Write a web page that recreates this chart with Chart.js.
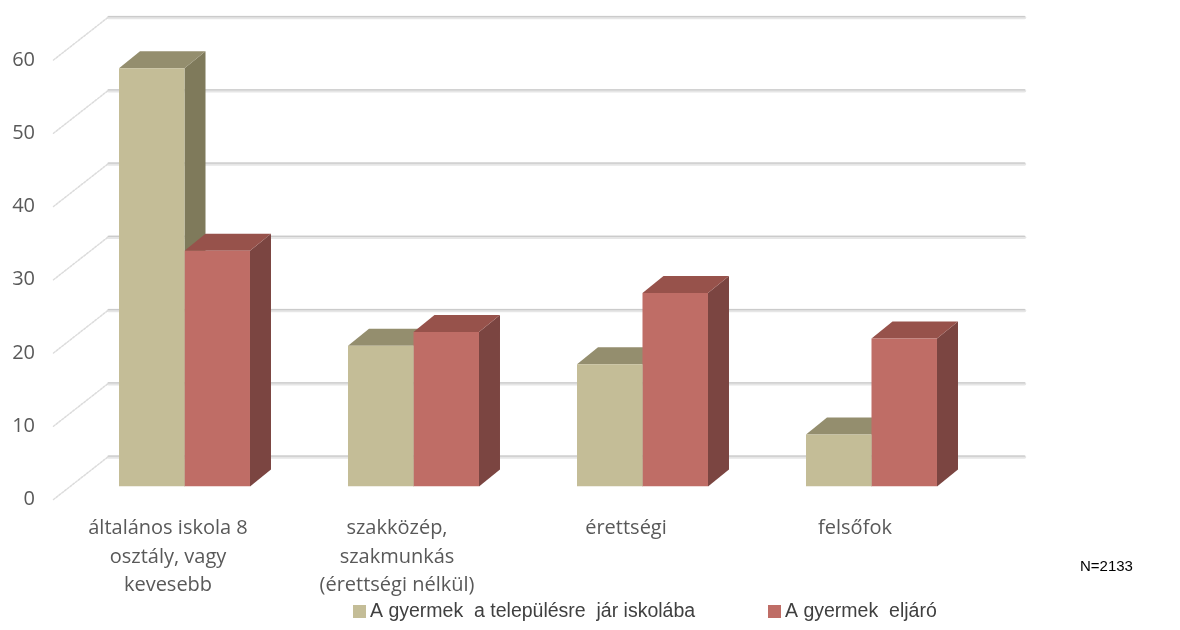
<!DOCTYPE html>
<html lang="hu">
<head>
    <meta charset="UTF-8">
    <title>Iskolai végzettség</title>
    <style>
    body {
        margin: 0;
        padding: 0;
        background-color: white;
    }
    #chart {
        display: block;
    }
    </style>
    <script src="https://cdn.jsdelivr.net/npm/chart.js"></script>
</head>
<body>
    <canvas id="chart" width="1180" height="630"></canvas>

    <script>
    // adatok
    const categories = [
        ['általános iskola 8', 'osztály, vagy', 'kevesebb'],
        ['szakközép,', 'szakmunkás', '(érettségi nélkül)'],
        ['érettségi'],
        ['felsőfok']
    ];
    const localSchool = [57.1, 19.2, 16.7, 7.1];
    const commuting = [32.2, 21.1, 26.4, 20.2];
    const seriesLabels = ['A gyermek  a településre  jár iskolába', 'A gyermek  eljáró'];
    const yMin = 0;
    const yMax = 60;
    const yStep = 10;
    const note = 'N=2133';

    // 3D eltolások (bar elülső síkjához képest)
    const BAR_DX = 21, BAR_DY = -17;
    const WALL_DX = 38.5, WALL_DY = -30;
    const FRONT_DX = -16.5, FRONT_DY = 13;

    const bars3d = {
        id: 'bars3d',
        beforeDatasetsDraw(chart) {
            const ctx = chart.ctx;
            const xs = chart.scales.x, ys = chart.scales.y;
            ctx.save();
            ctx.lineCap = 'round';
            ys.ticks.forEach(t => {
                const py = ys.getPixelForValue(t.value);
                // hátsó fal rácsvonal
                ctx.setLineDash([]);
                ctx.strokeStyle = '#e6e6e6';
                ctx.lineWidth = 3.5;
                ctx.beginPath();
                ctx.moveTo(xs.left + WALL_DX, py + WALL_DY + 0.5);
                ctx.lineTo(xs.right + WALL_DX, py + WALL_DY + 0.5);
                ctx.stroke();
                ctx.strokeStyle = '#cbcbcb';
                ctx.lineWidth = 1.2;
                ctx.beginPath();
                ctx.moveTo(xs.left + WALL_DX, py + WALL_DY - 0.3);
                ctx.lineTo(xs.right + WALL_DX, py + WALL_DY - 0.3);
                ctx.stroke();
                // oldalfal vonal
                ctx.strokeStyle = '#dcdcdc';
                ctx.lineWidth = 1.5;
                ctx.setLineDash([2, 1.5]);
                ctx.beginPath();
                ctx.moveTo(xs.left + FRONT_DX, py + FRONT_DY);
                ctx.lineTo(xs.left + WALL_DX, py + WALL_DY);
                ctx.stroke();
            });
            ctx.setLineDash([]);

            // oszlopok teteje és oldala
            for (let j = 0; j < categories.length; j++) {
                chart.data.datasets.forEach((ds, i) => {
                    const bar = chart.getDatasetMeta(i).data[j];
                    const l = bar.x - bar.width / 2;
                    const r = bar.x + bar.width / 2;
                    const top = bar.y, base = bar.base;

                    ctx.fillStyle = ds.sideColor;
                    ctx.beginPath();
                    ctx.moveTo(r, top);
                    ctx.lineTo(r + BAR_DX, top + BAR_DY);
                    ctx.lineTo(r + BAR_DX, base + BAR_DY);
                    ctx.lineTo(r, base);
                    ctx.closePath();
                    ctx.fill();

                    ctx.fillStyle = ds.topColor;
                    ctx.beginPath();
                    ctx.moveTo(l, top);
                    ctx.lineTo(l + BAR_DX, top + BAR_DY);
                    ctx.lineTo(r + BAR_DX, top + BAR_DY);
                    ctx.lineTo(r, top);
                    ctx.closePath();
                    ctx.fill();
                });
            }
            ctx.restore();
        },
        afterDraw(chart) {
            const ctx = chart.ctx;
            ctx.save();
            // jelmagyarázat
            const legendX = [353, 768];
            const legendY = 612;
            ctx.font = '19.5px "Liberation Sans"';
            ctx.textBaseline = 'middle';
            chart.data.datasets.forEach((ds, i) => {
                ctx.fillStyle = ds.backgroundColor;
                ctx.fillRect(legendX[i], legendY - 7, 13, 13);
                ctx.fillStyle = '#404040';
                ctx.fillText(ds.label, legendX[i] + 17, legendY);
            });
            // N
            ctx.font = '15px "Liberation Sans"';
            ctx.fillStyle = '#000000';
            ctx.fillText(note, 1080, 567);
            ctx.restore();
        }
    };

    const ctx = document.getElementById('chart').getContext('2d');
    new Chart(ctx, {
        type: 'bar',
        data: {
            labels: categories,
            datasets: [
                {
                    label: seriesLabels[0],
                    data: localSchool,
                    backgroundColor: '#C4BD97',
                    topColor: '#948E6E',
                    sideColor: '#7F7A5B'
                },
                {
                    label: seriesLabels[1],
                    data: commuting,
                    backgroundColor: '#BF6D66',
                    topColor: '#97524B',
                    sideColor: '#7B4541'
                }
            ]
        },
        options: {
            responsive: false,
            animation: false,
            layout: {
                padding: { top: 42, right: 194, left: 0, bottom: 0 }
            },
            datasets: {
                bar: {
                    barPercentage: 1,
                    categoryPercentage: 0.572
                }
            },
            scales: {
                x: {
                    grid: { display: false, drawTicks: false },
                    border: { display: false },
                    ticks: {
                        color: '#595959',
                        font: { family: '"Open Sans"', size: 20, lineHeight: 1.42 },
                        labelOffset: FRONT_DX,
                        padding: 28,
                        maxRotation: 0,
                        autoSkip: false
                    },
                    afterFit: function(scale) {
                        scale.height = 143.5;
                    }
                },
                y: {
                    min: yMin,
                    max: yMax,
                    grid: { display: false, drawTicks: false },
                    border: { display: false },
                    ticks: {
                        stepSize: yStep,
                        color: '#595959',
                        font: { family: '"Open Sans"', size: 20 },
                        labelOffset: FRONT_DY,
                        padding: 35
                    },
                    afterFit: function(scale) {
                        scale.width = 70;
                    }
                }
            },
            plugins: {
                legend: { display: false },
                tooltip: { enabled: false }
            }
        },
        plugins: [bars3d]
    });
    </script>
</body>
</html>
